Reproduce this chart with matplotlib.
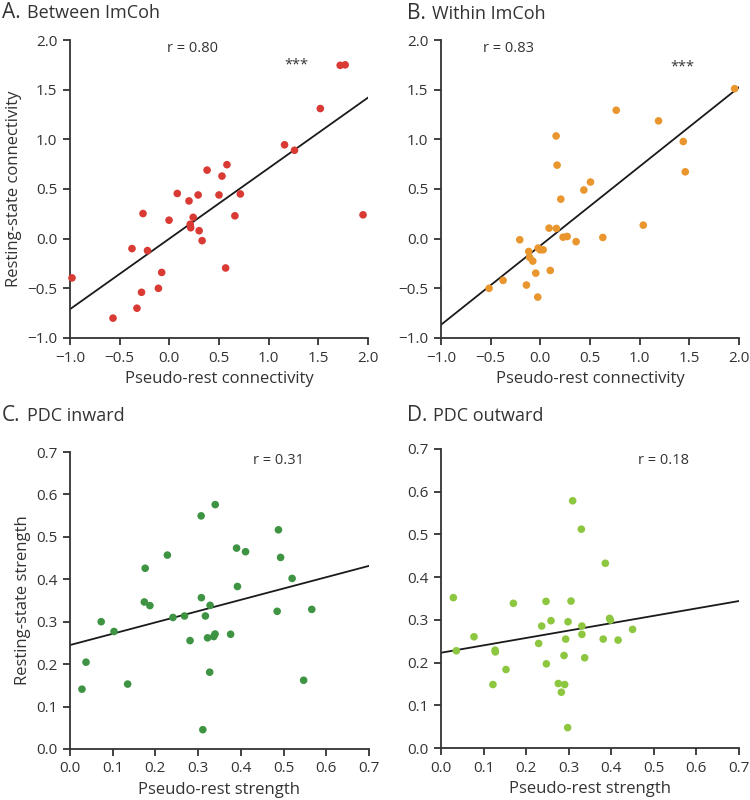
"""
Pseudo-rest vs resting-state connectivity, four scatter panels
"""
import matplotlib
matplotlib.use("Agg")
import matplotlib.pyplot as plt
import numpy as np

plt.rcParams["font.family"] = ["Open Sans", "DejaVu Sans"]

# panel A: between ImCoh
a_x = [-0.98, -0.567, -0.376, -0.326, -0.28, -0.265, -0.22, -0.11, -0.077, -0.003,
       0.08, 0.198, 0.21, 0.215, 0.24, 0.29, 0.30, 0.33, 0.38, 0.50,
       0.53, 0.567, 0.58, 0.66, 0.715, 1.16, 1.26, 1.52, 1.72, 1.77, 1.95]
a_y = [-0.395, -0.80, -0.10, -0.70, -0.54, 0.253, -0.12, -0.50, -0.34, 0.186,
       0.455, 0.38, 0.145, 0.11, 0.215, 0.44, 0.08, -0.02, 0.69, 0.44,
       0.63, -0.295, 0.745, 0.23, 0.45, 0.945, 0.89, 1.31, 1.745, 1.75, 0.24]
a_fit = (0.71, 0.0)  # slope, intercept

# panel B: within ImCoh
b_x = [-0.516, -0.375, -0.207, -0.14, -0.117, -0.107, -0.076, -0.046, -0.026, -0.022,
       -0.002, 0.028, 0.088, 0.10, 0.159, 0.162, 0.169, 0.206, 0.229, 0.27,
       0.36, 0.438, 0.505, 0.629, 0.764, 1.036, 1.19, 1.439, 1.459, 1.956]
b_y = [-0.50, -0.42, -0.011, -0.467, -0.129, -0.19, -0.226, -0.347, -0.588, -0.095,
       -0.112, -0.112, 0.106, -0.32, 1.034, 0.103, 0.74, 0.398, 0.015, 0.022,
       -0.03, 0.49, 0.57, 0.012, 1.293, 0.136, 1.186, 0.978, 0.673, 1.51]
b_fit = (0.797, -0.07)

# panel C: PDC inward
c_x = [0.028, 0.0375, 0.073, 0.103, 0.135, 0.174, 0.176, 0.187, 0.228, 0.241,
       0.268, 0.281, 0.307, 0.3076, 0.311, 0.317, 0.322, 0.327, 0.328, 0.3365,
       0.3396, 0.340, 0.376, 0.390, 0.392, 0.411, 0.485, 0.488, 0.493, 0.520,
       0.547, 0.566]
c_y = [0.141, 0.2046, 0.300, 0.277, 0.153, 0.3465, 0.426, 0.338, 0.457, 0.310,
       0.3135, 0.2555, 0.5495, 0.3567, 0.0455, 0.3135, 0.262, 0.181, 0.3386, 0.265,
       0.271, 0.576, 0.2704, 0.4735, 0.383, 0.465, 0.3245, 0.5166, 0.4515, 0.402,
       0.162, 0.329]
c_fit = (0.2666, 0.245)

# panel D: PDC outward
d_x = [0.029, 0.036, 0.0775, 0.122, 0.127, 0.1276, 0.1527, 0.170, 0.2294, 0.2365,
       0.2467, 0.2475, 0.2584, 0.2756, 0.2827, 0.289, 0.2905, 0.2929, 0.2976, 0.2984,
       0.3054, 0.3093, 0.3297, 0.331, 0.331, 0.3375, 0.381, 0.386, 0.396, 0.398,
       0.416, 0.450]
d_y = [0.352, 0.2276, 0.2604, 0.1486, 0.229, 0.225, 0.1838, 0.3387, 0.2448, 0.2855,
       0.3433, 0.197, 0.298, 0.151, 0.1306, 0.2166, 0.1486, 0.255, 0.0477, 0.2956,
       0.344, 0.5788, 0.5123, 0.2855, 0.266, 0.2112, 0.255, 0.4325, 0.3035, 0.2995,
       0.2526, 0.2777]
d_fit = (0.173, 0.223)

imcoh_ticks = [-1.0, -0.5, 0.0, 0.5, 1.0, 1.5, 2.0]
pdc_ticks = [0.0, 0.1, 0.2, 0.3, 0.4, 0.5, 0.6, 0.7]

W, H = 750, 800
INK = "#333333"
fig = plt.figure(figsize=(7.5, 8), dpi=100)


def make_axes(left, top, right, bottom):
    # pixel box -> figure fraction
    return fig.add_axes([left / W, 1 - bottom / H, (right - left) / W, (bottom - top) / H])


def style(ax, ticks):
    for side in ["top", "right"]:
        ax.spines[side].set_visible(False)
    for side in ["left", "bottom"]:
        ax.spines[side].set_color(INK)
        ax.spines[side].set_linewidth(1.3)
    ax.set_xlim(ticks[0], ticks[-1])
    ax.set_ylim(ticks[0], ticks[-1])
    ax.set_xticks(ticks)
    ax.set_yticks(ticks)
    labels = [f"{t:.1f}".replace("-", "\u2212") for t in ticks]
    ax.set_xticklabels(labels)
    ax.set_yticklabels(labels)
    ax.tick_params(length=5, width=1.3, color=INK, labelsize=11,
                   labelcolor=INK, pad=4)


def panel(ax, x, y, fit, color, ticks):
    style(ax, ticks)
    ax.scatter(x, y, s=30, color=color, edgecolors="none", zorder=3, clip_on=False)
    xs = np.array([ticks[0], ticks[-1]])
    ax.plot(xs, fit[0] * xs + fit[1], color="#1a1a1a", lw=1.3, zorder=2)


def title(x_letter, x_text, base, letter, text):
    fig.text(x_letter / W, 1 - base / H, letter, fontsize=15, color=INK, va="baseline")
    fig.text(x_text / W, 1 - base / H, text, fontsize=13, color=INK, va="baseline")


def note(ax, x, y, s):
    ax.text(x, y, s, transform=ax.transAxes, fontsize=10.5, color=INK,
            ha="center", va="center")


axA = make_axes(70, 40, 368, 338)
panel(axA, a_x, a_y, a_fit, "#d93a34", imcoh_ticks)
axA.set_xlabel("Pseudo-rest connectivity", fontsize=12, color=INK, labelpad=4)
axA.set_ylabel("Resting-state connectivity", fontsize=12, color=INK, labelpad=4)
note(axA, 0.41, 0.97, "r = 0.80")
note(axA, 0.76, 0.915, "***")

axB = make_axes(441, 40, 739, 338)
panel(axB, b_x, b_y, b_fit, "#e9962e", imcoh_ticks)
axB.set_xlabel("Pseudo-rest connectivity", fontsize=12, color=INK, labelpad=4)
note(axB, 0.225, 0.97, "r = 0.83")
note(axB, 0.81, 0.91, "***")

axC = make_axes(70, 452, 369, 749)
panel(axC, c_x, c_y, c_fit, "#3e9442", pdc_ticks)
axC.set_xlabel("Pseudo-rest strength", fontsize=12, color=INK, labelpad=4)
axC.set_ylabel("Resting-state strength", fontsize=12, color=INK, labelpad=4)
note(axC, 0.698, 0.973, "r = 0.31")

axD = make_axes(441, 449, 739, 748)
panel(axD, d_x, d_y, d_fit, "#8dc63f", pdc_ticks)
axD.set_xlabel("Pseudo-rest strength", fontsize=12, color=INK, labelpad=4)
note(axD, 0.745, 0.963, "r = 0.18")

title(2, 27, 18, "A.", "Between ImCoh")
title(407, 432, 19, "B.", "Within ImCoh")
title(2, 27, 421, "C.", "PDC inward")
title(407, 433, 421, "D.", "PDC outward")

fig.savefig("out.png", dpi=100, facecolor="white")
